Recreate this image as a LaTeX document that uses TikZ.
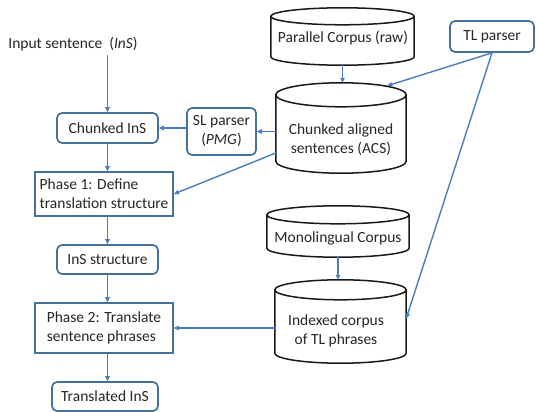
\documentclass[tikz,border=0pt]{standalone}
\usepackage{fontspec}
\setmainfont{Carlito}
\usetikzlibrary{arrows.meta,calc}

\definecolor{boxblue}{HTML}{41719C}
\definecolor{lineblue}{HTML}{4A7EBB}
\definecolor{txt}{HTML}{262626}

\tikzset{
  base/.style={font=\fontsize{15.5}{19}\selectfont, text=txt, inner sep=0pt},
  roundbox/.style={base, draw=boxblue, line width=1.7pt, rounded corners=5pt, align=center},
  phasebox/.style={base, draw=boxblue, line width=1.7pt, align=left},
  cylbox/.style={inner sep=0pt, draw=none},
  cyltext/.style={base, align=center},
  cylline/.style={draw=black!90, line width=1.5pt, fill=white},
  arr/.style={draw=lineblue, line width=1.4pt, -{Triangle[length=5pt,width=4.5pt]}}
}

% cylinder outline around the named rectangle node #1, ellipse half-height #2
\newcommand\cylout[2]{%
  \path[cylline] let \p1=(#1.north west), \p2=(#1.south east), \n1={(\x2-\x1)/2} in
    (\x1,{\y1-#2}) -- (\x1,{\y2+#2})
    arc[start angle=180, end angle=360, x radius={\n1*1pt}, y radius=#2]
    -- (\x2,{\y1-#2})
    arc[start angle=0, end angle=360, x radius={\n1*1pt}, y radius=#2];}

\begin{document}
\begin{tikzpicture}[x=1pt,y=-1pt]
\useasboundingbox (0,0) rectangle (536,412);

% left column: processing chain
\node[base] (ins) at (73,44) {Input sentence\ \ (\textit{InS})};
\node[roundbox, minimum width=101pt, minimum height=30pt] (chunk) at (107.5,128) {Chunked InS};
\node[roundbox, minimum width=69pt, minimum height=47pt] (slp) at (221.5,131.5) {SL parser\\(\textit{PMG})};
\node[phasebox, minimum width=138pt, minimum height=44pt] (ph1) at (104,194) {Phase 1: Define\\translation structure};
\node[roundbox, minimum width=101pt, minimum height=29pt] (inss) at (107.5,259.5) {InS structure};
\node[phasebox, minimum width=138pt, minimum height=50pt] (ph2) at (104,328) {Phase 2: Translate\\sentence phrases};
\node[roundbox, minimum width=106pt, minimum height=29pt] (trans) at (105,396.5) {Translated InS};

% right side: corpora and TL parser
\node[roundbox, minimum width=84pt, minimum height=31pt] (tlp) at (492,36.5) {TL parser};

\node[cylbox, minimum width=143pt, minimum height=57pt] (par) at (342.5,36.5) {};
\node[cylbox, minimum width=130pt, minimum height=90pt] (acs) at (341,128) {};
\node[cylbox, minimum width=142pt, minimum height=51pt] (mono) at (338,231.5) {};
\node[cylbox, minimum width=131pt, minimum height=83pt] (idx) at (340.5,321.5) {};

\cylout{par}{8.5pt}
\cylout{acs}{12pt}
\cylout{mono}{9pt}
\cylout{idx}{10pt}

\node[cyltext] (parT) at (343,38) {Parallel Corpus (raw)};
\node[cyltext] (acsT) at (341,140) {Chunked aligned\\sentences (ACS)};
\node[cyltext] (monoT) at (338,238.5) {Monolingual Corpus};
\node[cyltext] (idxT) at (336,331) {Indexed corpus\\of TL phrases};

% connectors
\draw[arr] (chunk.north |- ins.south) ++(0,4) -- (chunk.north);
\draw[arr] (chunk.south) -- (chunk.south |- ph1.north);
\draw[arr] (slp.west |- chunk.east) -- (chunk.east);
\draw[arr] (acs.west |- slp.east) -- (slp.east);
\draw[arr] ([yshift=-25pt]acs.west) -- (ph1.east);
\draw[arr] (par.south) -- (par.south |- acs.north);
\draw[arr] (tlp.south) -- ([xshift=-19pt,yshift=-3pt]acs.north east);
\draw[arr] (tlp.south) -- ([yshift=3pt]idx.east);
\draw[arr] (mono.south) -- (mono.south |- idx.north);
\draw[arr] (idx.west |- ph2.east) -- (ph2.east);
\draw[arr] (inss.north |- ph1.south) -- (inss.north);
\draw[arr] (inss.south) -- (inss.south |- ph2.north);
\draw[arr] (ph2.south -| inss.south) -- (trans.north -| inss.south);
\end{tikzpicture}
\end{document}
